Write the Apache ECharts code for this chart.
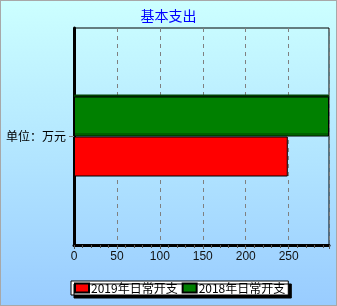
<!DOCTYPE html>
<html>
<head>
<meta charset="utf-8">
<script src="https://cdn.jsdelivr.net/npm/echarts@6/dist/echarts.min.js"></script>
<style>
  html, body { margin: 0; padding: 0; }
  #chart { width: 337px; height: 306px; box-sizing: border-box; border: 1px solid #a8a8a8; }
</style>
</head>
<body>
<div id="chart"></div>
<script>
// data
var categories = ['单位：万元']
var seriesNames = ['2019年日常开支', '2018年日常开支']
var values2019 = [249]
var values2018 = [297]
var seriesColors = ['#ff0000', '#008000']

var chart = echarts.init(document.getElementById('chart'))

chart.setOption({
  backgroundColor: new echarts.graphic.LinearGradient(0, 0, 0, 1, [
    { offset: 0, color: '#ccffff' },
    { offset: 1, color: '#99ccff' }
  ]),
  animation: false,
  title: {
    text: '基本支出',
    left: 'center',
    top: 3,
    textStyle: {
      color: '#0000ff',
      fontSize: 14,
      fontWeight: 'normal',
      fontFamily: 'Noto Sans CJK SC'
    }
  },
  legend: {
    data: seriesNames,
    bottom: 10,
    left: 70,
    itemWidth: 14,
    itemHeight: 9,
    itemGap: 4,
    padding: [1, 3, 1, 3],
    backgroundColor: '#ffffff',
    borderColor: '#000',
    borderWidth: 1,
    shadowColor: '#000',
    shadowOffsetX: 3,
    shadowOffsetY: 3,
    icon: 'rect',
    textStyle: {
      color: '#000',
      fontSize: 12,
      padding: [0, 0, 0, -3],
      fontFamily: 'Noto Sans CJK SC'
    }
  },
  grid: {
    left: 73,
    right: 7,
    top: 27,
    bottom: 60,
    show: true,
    borderColor: '#000',
    borderWidth: 1
  },
  xAxis: {
    type: 'value',
    min: 0,
    max: 297,
    interval: 50,
    axisLine: {
      show: true,
      lineStyle: { color: '#000', width: 3 }
    },
    axisTick: {
      show: true,
      length: 4,
      lineStyle: { color: '#555' }
    },
    minorTick: {
      show: true,
      splitNumber: 5,
      length: 3,
      lineStyle: { color: '#555' }
    },
    axisLabel: {
      color: '#111',
      fontSize: 12,
      margin: 6,
      showMaxLabel: false,
      fontFamily: 'Liberation Sans'
    },
    splitLine: {
      show: true,
      lineStyle: { color: '#808080', type: [4, 4] }
    }
  },
  yAxis: {
    type: 'category',
    data: categories,
    axisLine: {
      show: true,
      lineStyle: { color: '#000', width: 3 }
    },
    axisTick: {
      show: true,
      alignWithLabel: true,
      length: 5,
      lineStyle: { color: '#808080' }
    },
    axisLabel: {
      color: '#000',
      fontSize: 12,
      margin: 8,
      fontFamily: 'Noto Sans CJK SC'
    },
    splitLine: { show: false }
  },
  series: [
    {
      name: seriesNames[1],
      type: 'bar',
      data: values2018,
      barWidth: 40,
      barGap: '0%',
      itemStyle: {
        color: seriesColors[1],
        borderColor: '#000',
        borderWidth: 1,
        shadowColor: '#004000',
        shadowOffsetY: -2
      }
    },
    {
      name: seriesNames[0],
      type: 'bar',
      data: values2019,
      barWidth: 40,
      barGap: '0%',
      itemStyle: {
        color: seriesColors[0],
        borderColor: '#000',
        borderWidth: 1
      }
    }
  ]
})
</script>
</body>
</html>
